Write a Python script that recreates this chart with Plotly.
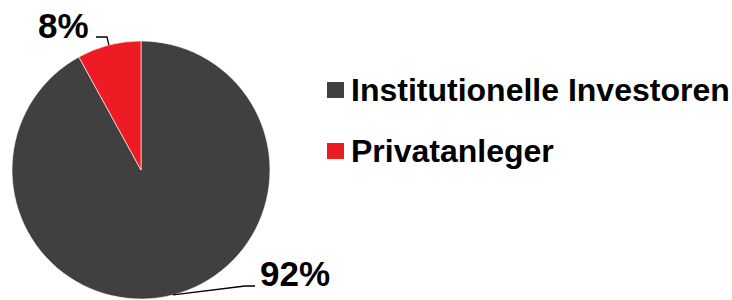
import math
import plotly.graph_objects as go

labels = ["Institutionelle Investoren", "Privatanleger"]
values = [92, 8]
colors = ["#404040", "#ED1C24"]

W, H = 732, 300
CX, CY, R = 141, 170, 129

def px(x):
    return x / W

def py(y):
    return 1 - y / H

fig = go.Figure(go.Pie(
    labels=labels, values=values, sort=False, direction="clockwise", rotation=0,
    marker=dict(colors=colors, line=dict(color="white", width=0.6)),
    textinfo="none", hoverinfo="label+percent", showlegend=False,
    domain=dict(x=[px(CX - R), px(CX + R)], y=[py(CY + R), py(CY - R)]),
))

FONT = "Liberation Sans, Arial, sans-serif"
total = sum(values)
shapes = []
annotations = []

# percent labels with leader lines (label positions are layout choices)
label_pos = [
    # (text anchor x, y, xanchor, elbow x, elbow y, end x)
    (258, 273, "left", 245, 286, 255),
    (91, 25, "right", 107, 37, 96),
]
cum = 0
for i, v in enumerate(values):
    mid = (cum + v / 2) / total * 2 * math.pi
    cum += v
    ex = CX + R * math.sin(mid)
    ey = CY - R * math.cos(mid)
    tx, ty, anc, bx, by, lx = label_pos[i]
    shapes.append(dict(type="path", xref="paper", yref="paper",
                       path=f"M{px(ex)},{py(ey)} L{px(bx)},{py(by)} L{px(lx)},{py(by)}",
                       line=dict(color="black", width=1.3)))
    annotations.append(dict(text=f"<b>{round(v / total * 100)}%</b>", x=px(tx), y=py(ty),
                            xref="paper", yref="paper", xanchor=anc, yanchor="middle",
                            showarrow=False, font=dict(family=FONT, size=35, color="black")))

# custom legend
leg_y = [90, 151]
for i, lab in enumerate(labels):
    yc = leg_y[i]
    shapes.append(dict(type="rect", xref="paper", yref="paper",
                       x0=px(327), x1=px(344), y0=py(yc - 8), y1=py(yc + 8),
                       fillcolor=colors[i], line=dict(width=0)))
    annotations.append(dict(text=f"<b>{lab}</b>", x=px(349), y=py(yc), xref="paper", yref="paper",
                            xanchor="left", yanchor="middle", showarrow=False,
                            font=dict(family=FONT, size=32, color="black")))

fig.update_layout(
    width=W, height=H, margin=dict(l=0, r=0, t=0, b=0),
    paper_bgcolor="white", plot_bgcolor="white",
    shapes=shapes, annotations=annotations,
)
fig.write_html("out.html", config={"displayModeBar": False},
               post_script="document.body.style.margin='0';document.body.style.overflow='hidden';")
